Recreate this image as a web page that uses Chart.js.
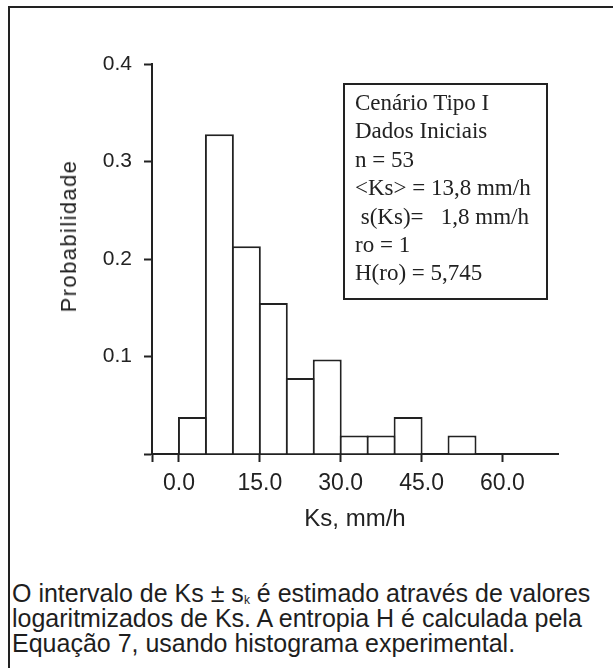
<!DOCTYPE html>
<html lang="pt">
<head>
<meta charset="utf-8">
<title>Histograma de Ks</title>
<script src="https://cdn.jsdelivr.net/npm/chart.js@4/dist/chart.umd.min.js"></script>
<style>
  html, body { margin: 0; padding: 0; background: #fff; }
  body { width: 613px; height: 668px; position: relative; overflow: hidden; }
  #frame {
    position: absolute; left: 8px; top: 6px; right: 0; bottom: 0;
    border-top: 2.5px solid #222; border-left: 2.5px solid #222;
  }
  #chartWrap { position: absolute; left: 0; top: 0; width: 613px; height: 534px; }
  #yTitle {
    position: absolute; left: 69px; top: 236px;
    transform: translate(-50%, -50%) rotate(-90deg);
    font: 22px "Liberation Sans", Arial, sans-serif; letter-spacing: 1.4px;
    color: #222; white-space: nowrap;
  }
  #stats {
    position: absolute; left: 343px; top: 83px; width: 191px; height: 209px;
    border: 2px solid #222; padding: 4px 0 0 10px; box-sizing: content-box;
    font: 23px "Liberation Serif", "Times New Roman", serif; line-height: 28.4px;
    color: #222; white-space: pre;
  }
  #caption {
    position: absolute; left: 12px; top: 581px;
    font: 25px "Liberation Sans", Arial, sans-serif; line-height: 25px; color: #1e1e1e;
    white-space: nowrap;
  }
  #caption sub { font-size: 12px; line-height: 0; vertical-align: -2px; }
</style>
</head>
<body>
<div id="frame"></div>
<div id="chartWrap"><canvas id="histChart" width="613" height="534"></canvas></div>
<div id="yTitle">Probabilidade</div>
<div id="stats"></div>
<div id="caption">O intervalo de Ks ± s<sub>k</sub> é estimado através de valores<br>logaritmizados de Ks. A entropia H é calculada pela<br>Equação 7, usando histograma experimental.</div>

<script>
// classes de Ks (mm/h), largura 5
const binStarts = [0, 5, 10, 15, 20, 25, 30, 35, 40, 45, 50];
const binWidth = 5;
const probabilities = [0.038, 0.328, 0.213, 0.155, 0.078, 0.097, 0.019, 0.019, 0.038, 0, 0.019];

const xTickValues = [0, 15, 30, 45, 60];
const yTickValues = [0, 0.1, 0.2, 0.3, 0.4];
const xMin = -5;
const xMax = 70.3;

const statsLines = [
  "Cenário Tipo I",
  "Dados Iniciais",
  "n = 53",
  "<Ks> = 13,8 mm/h",
  " s(Ks)=   1,8 mm/h",
  "ro = 1",
  "H(ro) = 5,745",
];

document.getElementById("stats").textContent = statsLines.join("\n");

const ink = "#222";
const points = binStarts.map((b, i) => ({
  x: b + binWidth / 2,
  y: probabilities[i] > 0 ? probabilities[i] : null,
}));

const ctx = document.getElementById("histChart").getContext("2d");
new Chart(ctx, {
  type: "bar",
  data: {
    datasets: [
      {
        data: points,
        backgroundColor: "#fff",
        borderColor: ink,
        borderWidth: 2,
        barPercentage: 1.074,
        categoryPercentage: 1,
      },
    ],
  },
  options: {
    responsive: false,
    animation: false,
    layout: { padding: { left: 0, right: 55, top: 64, bottom: 0 } },
    plugins: { legend: { display: false }, tooltip: { enabled: false } },
    scales: {
      x: {
        type: "linear",
        min: xMin,
        max: xMax,
        offset: false,
        afterFit: (s) => { s.height = 80; },
        afterBuildTicks: (s) => {
          s.ticks = [xMin].concat(xTickValues).map((v) => ({ value: v }));
        },
        ticks: {
          autoSkip: false,
          maxRotation: 0,
          padding: 8,
          color: ink,
          font: { family: "'Liberation Sans', Arial, sans-serif", size: 23 },
          callback: (v) => (v === xMin ? "" : v.toFixed(1)),
        },
        grid: {
          offset: false,
          drawOnChartArea: false,
          drawTicks: true,
          tickLength: 8,
          tickWidth: 2,
          tickColor: ink,
        },
        border: { display: true, color: ink, width: 2 },
        title: {
          display: true,
          text: "Ks, mm/h",
          color: ink,
          padding: { top: 0, bottom: 0 },
          font: { family: "'Liberation Sans', Arial, sans-serif", size: 24 },
        },
      },
      y: {
        min: 0,
        max: 0.4,
        afterFit: (s) => { s.width = 152; },
        afterBuildTicks: (s) => {
          s.ticks = yTickValues.map((v) => ({ value: v }));
        },
        ticks: {
          padding: 12,
          color: ink,
          font: { family: "'Liberation Sans', Arial, sans-serif", size: 21 },
          callback: (v) => (v === 0 ? "" : v.toFixed(1)),
        },
        grid: {
          drawOnChartArea: false,
          drawTicks: true,
          tickLength: 8,
          tickWidth: 2,
          tickColor: ink,
        },
        border: { display: true, color: ink, width: 2 },
      },
    },
  },
});
</script>
</body>
</html>
